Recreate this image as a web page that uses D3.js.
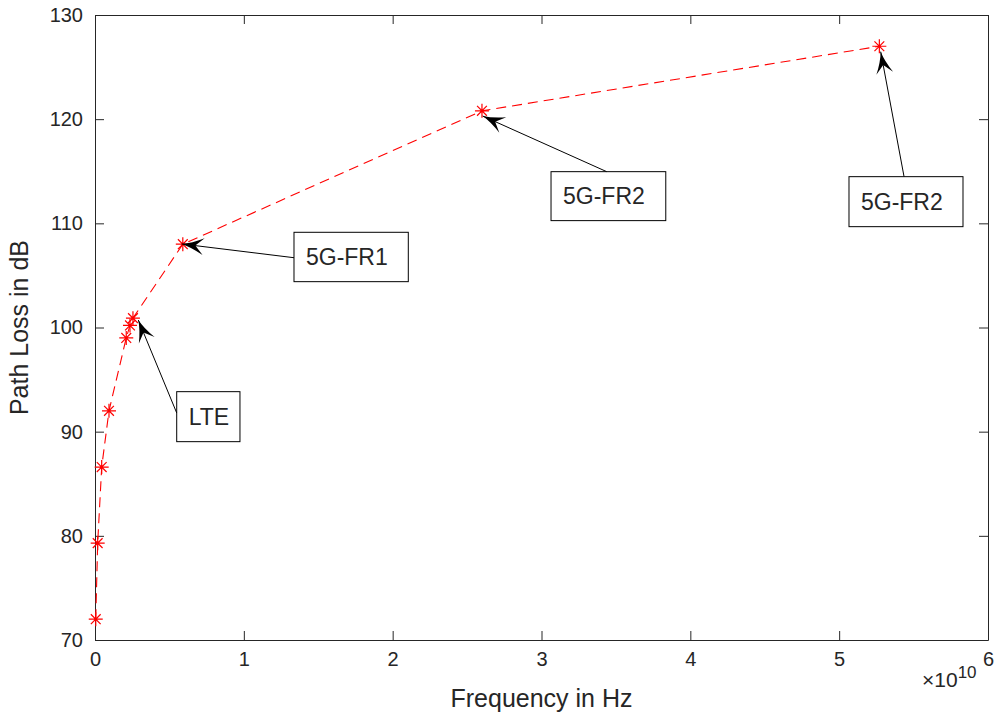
<!DOCTYPE html>
<html>
<head>
<meta charset="utf-8">
<script src="https://cdn.jsdelivr.net/npm/d3@7"></script>
<style>
  body { margin: 0; background: #fff; }
  text { font-family: "Liberation Sans", Arial, sans-serif; fill: #262626; }
</style>
</head>
<body>
<div id="chart"></div>
<script>
// Path loss readings (frequency in Hz, loss in dB)
var freqs = [0.05e9, 0.18e9, 0.45e9, 0.94e9, 2.1e9, 2.35e9, 2.55e9, 5.9e9, 2.6e10, 5.27e10];
var pathLoss = [72.0, 79.3, 86.6, 92.0, 99.0, 100.2, 100.9, 108.0, 120.8, 127.0];

var xTicks = [0, 1e10, 2e10, 3e10, 4e10, 5e10, 6e10];
var yTicks = [70, 80, 90, 100, 110, 120, 130];

// Annotations: arrow tip, arrow tail, text box corners, all in data units
var notes = [
  {label: "LTE",    tip: [0.291e10, 100.72], tail: [0.549e10, 91.8],  box: [0.549e10, 93.84, 0.974e10, 89.04]},
  {label: "5G-FR1", tip: [0.583e10, 108.02], tail: [1.337e10, 106.7], box: [1.337e10, 109.14, 2.105e10, 104.4]},
  {label: "5G-FR2", tip: [2.605e10, 120.3],  tail: [3.438e10, 114.96], box: [3.064e10, 114.96, 3.835e10, 110.26]},
  {label: "5G-FR2", tip: [5.279e10, 126.48], tail: [5.436e10, 114.48], box: [5.066e10, 114.48, 5.832e10, 109.68]}
];

var W = 1000, H = 718;
var margin = {top: 15, right: 12, bottom: 78, left: 95},
    width = W - margin.left - margin.right,
    height = H - margin.top - margin.bottom;

var svg = d3.select("#chart").append("svg")
    .attr("width", W)
    .attr("height", H);

var g = svg.append("g")
    .attr("transform", "translate(" + margin.left + "," + margin.top + ")");

var x = d3.scaleLinear().domain([0, 6e10]).range([0, width]);
var y = d3.scaleLinear().domain([70, 130]).range([height, 0]);

var axisColor = "#262626";
var tickLen = 9;

// Axes (box with inward ticks on all sides)
var xAxis = d3.axisBottom(x).tickValues(xTicks).tickSizeInner(-tickLen).tickSizeOuter(0)
    .tickPadding(12).tickFormat(function(d) { return d / 1e10; });
var yAxis = d3.axisLeft(y).tickValues(yTicks).tickSizeInner(-tickLen).tickSizeOuter(0)
    .tickPadding(12);

g.append("g").attr("class", "axis")
    .attr("transform", "translate(0," + height + ")")
    .call(xAxis);
g.append("g").attr("class", "axis")
    .call(yAxis);
g.append("g").attr("class", "axis")
    .call(d3.axisTop(x).tickValues(xTicks).tickSizeInner(-tickLen).tickSizeOuter(0).tickFormat(""));
g.append("g").attr("class", "axis")
    .attr("transform", "translate(" + width + ",0)")
    .call(d3.axisRight(y).tickValues(yTicks).tickSizeInner(-tickLen).tickSizeOuter(0).tickFormat(""));

g.selectAll(".axis path").attr("stroke", axisColor).attr("stroke-width", 1);
g.selectAll(".axis line").attr("stroke", axisColor).attr("stroke-width", 1);
g.selectAll(".axis text").attr("font-size", 20).attr("fill", axisColor)
    .attr("font-family", "Liberation Sans, Arial, sans-serif");

// Exponent label
var expo = g.append("text")
    .attr("x", width - 66)
    .attr("y", height + 47)
    .attr("font-size", 21);
expo.append("tspan").text("\u00d710");
expo.append("tspan").attr("dy", -9).attr("font-size", 17).text("10");

// Axis labels
g.append("text")
    .attr("x", width / 2)
    .attr("y", height + 67)
    .attr("text-anchor", "middle")
    .attr("font-size", 25)
    .text("Frequency in Hz");

g.append("text")
    .attr("transform", "translate(-67," + (height / 2) + ") rotate(-90)")
    .attr("text-anchor", "middle")
    .attr("font-size", 25)
    .text("Path Loss in dB");

// Data line
var data = freqs.map(function(f, i) { return {f: f, pl: pathLoss[i]}; });

var line = d3.line()
    .x(function(d) { return x(d.f); })
    .y(function(d) { return y(d.pl); });

g.append("path")
    .datum(data)
    .attr("fill", "none")
    .attr("stroke", "#ff0000")
    .attr("stroke-width", 1.1)
    .attr("stroke-dasharray", "10,6")
    .attr("d", line);

// Asterisk markers
var r = 7;
var star = "M" + (-r) + ",0L" + r + ",0M0," + (-r) + "L0," + r +
    "M" + (-r * 0.7) + "," + (-r * 0.7) + "L" + (r * 0.7) + "," + (r * 0.7) +
    "M" + (-r * 0.7) + "," + (r * 0.7) + "L" + (r * 0.7) + "," + (-r * 0.7);

g.append("g").selectAll("path")
    .data(data)
  .enter().append("path")
    .attr("d", star)
    .attr("transform", function(d) { return "translate(" + x(d.f) + "," + y(d.pl) + ")"; })
    .attr("stroke", "#ff0000")
    .attr("stroke-width", 1.2)
    .attr("fill", "none");

// Annotations
var ann = g.append("g").selectAll("g")
    .data(notes)
  .enter().append("g");

ann.append("rect")
    .attr("x", function(d) { return x(d.box[0]); })
    .attr("y", function(d) { return y(d.box[1]); })
    .attr("width", function(d) { return x(d.box[2]) - x(d.box[0]); })
    .attr("height", function(d) { return y(d.box[3]) - y(d.box[1]); })
    .attr("fill", "#fff")
    .attr("stroke", "#000")
    .attr("stroke-width", 1);

ann.append("text")
    .attr("x", function(d) { return x(d.box[0]) + 12; })
    .attr("y", function(d) { return (y(d.box[1]) + y(d.box[3])) / 2; })
    .attr("dy", "0.36em")
    .attr("font-size", 23)
    .attr("fill", "#000")
    .text(function(d) { return d.label; });

ann.append("line")
    .attr("x1", function(d) { return x(d.tail[0]); })
    .attr("y1", function(d) { return y(d.tail[1]); })
    .attr("x2", function(d) { return x(d.tip[0]); })
    .attr("y2", function(d) { return y(d.tip[1]); })
    .attr("stroke", "#000")
    .attr("stroke-width", 1);

// vback2-like arrow head
var headL = 22, headW = 17;
ann.append("path")
    .attr("d", "M0,0Q" + (-headL * 0.45) + "," + (headW * 0.12) + " " + (-headL) + "," + (headW / 2) +
        "L" + (-headL * 0.62) + ",0L" + (-headL) + "," + (-headW / 2) +
        "Q" + (-headL * 0.45) + "," + (-headW * 0.12) + " 0,0Z")
    .attr("fill", "#000")
    .attr("transform", function(d) {
      var tx = x(d.tip[0]), ty = y(d.tip[1]);
      var a = Math.atan2(ty - y(d.tail[1]), tx - x(d.tail[0])) * 180 / Math.PI;
      return "translate(" + tx + "," + ty + ") rotate(" + a + ")";
    });
</script>
</body>
</html>
